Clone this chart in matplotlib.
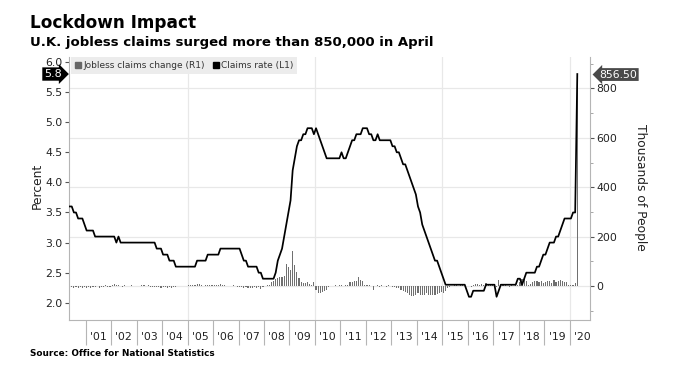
import numpy as np
import matplotlib
matplotlib.use('Agg')
import matplotlib.pyplot as plt
import matplotlib.transforms as mtransforms
from matplotlib.lines import Line2D
from matplotlib.ticker import MultipleLocator, FixedLocator, NullFormatter, FormatStrFormatter

## data, monthly from May 2000 to Apr 2020
# claimant count rate, percent (L1)
claims_rate = [
    3.6, 3.6, 3.5, 3.5, 3.4, 3.4, 3.4, 3.3,                          # 2000 May-Dec
    3.2, 3.2, 3.2, 3.2, 3.1, 3.1, 3.1, 3.1, 3.1, 3.1, 3.1, 3.1,      # 2001
    3.1, 3.1, 3.0, 3.1, 3.0, 3.0, 3.0, 3.0, 3.0, 3.0, 3.0, 3.0,      # 2002
    3.0, 3.0, 3.0, 3.0, 3.0, 3.0, 3.0, 3.0, 3.0, 2.9, 2.9, 2.9,      # 2003
    2.8, 2.8, 2.8, 2.7, 2.7, 2.7, 2.6, 2.6, 2.6, 2.6, 2.6, 2.6,      # 2004
    2.6, 2.6, 2.6, 2.6, 2.7, 2.7, 2.7, 2.7, 2.7, 2.8, 2.8, 2.8,      # 2005
    2.8, 2.8, 2.8, 2.9, 2.9, 2.9, 2.9, 2.9, 2.9, 2.9, 2.9, 2.9,      # 2006
    2.9, 2.8, 2.7, 2.7, 2.6, 2.6, 2.6, 2.6, 2.6, 2.5, 2.5, 2.4,      # 2007
    2.4, 2.4, 2.4, 2.4, 2.4, 2.5, 2.7, 2.8, 2.9, 3.1, 3.3, 3.5,      # 2008
    3.7, 4.2, 4.4, 4.6, 4.7, 4.7, 4.8, 4.8, 4.9, 4.9, 4.9, 4.8,      # 2009
    4.9, 4.8, 4.7, 4.6, 4.5, 4.4, 4.4, 4.4, 4.4, 4.4, 4.4, 4.4,      # 2010
    4.5, 4.4, 4.4, 4.5, 4.6, 4.7, 4.7, 4.8, 4.8, 4.8, 4.9, 4.9,      # 2011
    4.9, 4.8, 4.8, 4.7, 4.7, 4.8, 4.7, 4.7, 4.7, 4.7, 4.7, 4.7,      # 2012
    4.6, 4.6, 4.5, 4.5, 4.4, 4.3, 4.3, 4.2, 4.1, 4.0, 3.9, 3.8,      # 2013
    3.6, 3.5, 3.3, 3.2, 3.1, 3.0, 2.9, 2.8, 2.7, 2.7, 2.6, 2.5,      # 2014
    2.4, 2.3, 2.3, 2.3, 2.3, 2.3, 2.3, 2.3, 2.3, 2.3, 2.3, 2.2,      # 2015
    2.1, 2.1, 2.2, 2.2, 2.2, 2.2, 2.2, 2.2, 2.3, 2.3, 2.3, 2.3,      # 2016
    2.3, 2.1, 2.2, 2.3, 2.3, 2.3, 2.3, 2.3, 2.3, 2.3, 2.3, 2.4,      # 2017
    2.4, 2.3, 2.4, 2.5, 2.5, 2.5, 2.5, 2.5, 2.6, 2.6, 2.7, 2.8,      # 2018
    2.8, 2.9, 3.0, 3.0, 3.0, 3.1, 3.1, 3.2, 3.3, 3.4, 3.4, 3.4,      # 2019
    3.4, 3.5, 3.5, 5.8,                                              # 2020 Jan-Apr
]
# monthly change in jobless claims, thousands of people (R1)
claims_change = [
    -8, -6, -10, -5, -8, -6, -9, -4,                                 # 2000 May-Dec
    -7, -3, -9, -5, -6, -2, -8, -4, -6, 3, -5, -3,                   # 2001
    5, 8, 3, 6, 2, -3, 4, 2, -2, 3, 1, -2,                           # 2002
    2, -1, 3, 5, -2, 6, -3, -4, -5, -6, -4, -7,                      # 2003
    -5, -6, -7, -5, -8, -4, -3, 0, 2, -1, 1, 2,                      # 2004
    3, 5, 6, 4, 7, 8, 3, 2, 5, 6, 4, 3,                              # 2005
    5, 6, 3, 7, 5, 4, 2, 1, -2, 3, 0, -3,                            # 2006
    -4, -6, -8, -5, -7, -10, -8, -6, -9, -5, -12, -3,                # 2007
    2, 3, 5, 17, 22, 28, 32, 35, 38, 40, 88, 78,                     # 2008
    65, 143, 85, 58, 31, 16, 14, 12, 15, 10, 5, 15,                  # 2009
    -18, -28, -30, -25, -22, -15, -5, 2, 0, 3, -2, 3,                # 2010
    3, 2, 5, 5, 18, 15, 22, 20, 36, 25, 22, 3,                       # 2011
    3, 5, 2, -15, 2, 5, -3, 3, 2, -5, 3, -2,                         # 2012
    -5, -3, -10, -8, -15, -20, -25, -30, -38, -40, -42, -35,         # 2013
    -30, -35, -38, -35, -30, -35, -38, -35, -37, -32, -30, -25,      # 2014
    -30, -20, -10, -5, 0, 3, 5, 2, 3, 5, 2, 0,                       # 2015
    2, -5, 5, 8, 10, 5, 8, 3, 12, 5, 3, 5,                           # 2016
    2, -3, 25, 5, 3, 5, 2, -3, 3, 2, 5, 3,                           # 2017
    15, 28, 30, 20, 5, 8, 15, 20, 22, 18, 20, 12,                    # 2018
    15, 22, 20, 12, 25, 15, 22, 25, 20, 15, 18, 5,                   # 2019
    3, 5, 12, 856.5,                                                 # 2020 Jan-Apr
]
year_ticks = list(range(2001, 2021))
year_labels = ["'01", "'02", "'03", "'04", "'05", "'06", "'07", "'08", "'09", "'10",
               "'11", "'12", "'13", "'14", "'15", "'16", "'17", "'18", "'19", "'20"]
grid_years = [2005, 2010, 2015, 2020]
last_rate_label = '5.8'
last_change_label = '856.50'

# month positions (middle of each month) as decimal years
x = 2000 + 4 / 12 + np.arange(len(claims_rate)) / 12 + 1 / 24

W, H = 676, 379
fig = plt.figure(figsize=(W / 100, H / 100), dpi=100)
ax = fig.add_axes([69 / W, 1 - 320 / H, (590 - 69) / W, (320 - 57) / H])
ax2 = ax.twinx()
ax.set_zorder(ax2.get_zorder() + 1)
ax.patch.set_visible(False)

gray_spine = '#b5b5b5'
grid_col = '#e8e8e8'
txt_col = '#222222'

## bars (right axis)
ax2.bar(x, claims_change, width=0.045, color='#707070', zorder=2)
ax2.set_ylim(-137.7, 927.5)
ax2.yaxis.set_minor_locator(MultipleLocator(100))
ax2.set_yticks([0, 200, 400, 600, 800])
ax2.yaxis.grid(True, color=grid_col, lw=0.9, zorder=0)
for yr in grid_years:
    ax2.axvline(yr, color=grid_col, lw=0.9, zorder=0)
ax2.set_axisbelow(True)

## line (left axis)
ax.plot(x, claims_rate, color='black', lw=1.25, zorder=3)
ax.set_ylim(1.714, 6.083)
ax.set_xlim(2000.35, 2020.79)
ax.yaxis.set_major_locator(MultipleLocator(0.5))
ax.yaxis.set_major_formatter(FormatStrFormatter('%.1f'))

# x axis: long ticks at year starts, labels in between
ax.xaxis.set_major_locator(FixedLocator(year_ticks))
ax.xaxis.set_major_formatter(NullFormatter())
ax.xaxis.set_minor_locator(FixedLocator([y + 0.5 for y in year_ticks]))
ax.xaxis.set_minor_formatter(matplotlib.ticker.FixedFormatter(year_labels))
ax.tick_params(axis='x', which='major', length=18, width=0.8, color=gray_spine)
ax.tick_params(axis='x', which='minor', length=0, pad=9, labelsize=7.8, labelcolor=txt_col)
ax.tick_params(axis='y', which='major', length=3, width=0.8, color='#555555',
               labelsize=7.8, labelcolor=txt_col, pad=1.5)
ax2.tick_params(axis='y', which='major', length=3, width=0.8, color='#555555',
                labelsize=7.8, labelcolor=txt_col, pad=1.5)
ax2.tick_params(axis='y', which='minor', length=2, width=0.6, color='#999999')

for s in ['top', 'right']:
    ax.spines[s].set_visible(False)
for s in ['top', 'left', 'bottom']:
    ax2.spines[s].set_visible(False)
ax.spines['left'].set_color(gray_spine)
ax.spines['bottom'].set_color(gray_spine)
ax2.spines['right'].set_color(gray_spine)

## last value tags
trans_l = mtransforms.blended_transform_factory(ax.transAxes, ax.transData)
ax.text(-0.014, claims_rate[-1], last_rate_label, transform=trans_l, ha='right', va='center',
        color='white', fontsize=8, clip_on=False,
        bbox=dict(boxstyle='rarrow,pad=0.15', fc='black', ec='none'))
trans_r = mtransforms.blended_transform_factory(ax2.transAxes, ax2.transData)
ax2.text(1.018, claims_change[-1], last_change_label, transform=trans_r, ha='left', va='center',
         color='white', fontsize=7.8, clip_on=False,
         bbox=dict(boxstyle='larrow,pad=0.13', fc='#4a4a4a', ec='none'))

## legend
handles = [Line2D([], [], ls='none', marker='s', ms=4.5, color='#666666'),
           Line2D([], [], ls='none', marker='s', ms=4.5, color='black')]
leg = ax.legend(handles, ['Jobless claims change (R1)', 'Claims rate (L1)'],
                loc='upper left', bbox_to_anchor=(0.004, 1.0), ncol=2, frameon=True,
                fancybox=False, framealpha=1, facecolor='#ececec', edgecolor='none',
                fontsize=6.5, handlelength=0.6, handletextpad=0.3, columnspacing=0.9,
                borderpad=0.45, borderaxespad=0)
for t in leg.get_texts():
    t.set_color('#333333')

## titles and labels
fig.text(30 / W, 1 - 28 / H, 'Lockdown Impact', fontsize=12.2, fontweight='bold', va='baseline')
fig.text(30 / W, 1 - 45.7 / H, 'U.K. jobless claims surged more than 850,000 in April',
         fontsize=9.5, fontweight='bold', va='baseline')
fig.text(30 / W, 1 - 356 / H, 'Source: Office for National Statistics',
         fontsize=6.4, fontweight='bold', va='baseline')
fig.text(37 / W, 1 - 186 / H, 'Percent', fontsize=8.8, rotation=90, ha='center', va='center',
         color=txt_col)
fig.text(640 / W, 1 - 187 / H, 'Thousands of People', fontsize=8.8, rotation=270,
         ha='center', va='center', color=txt_col)

fig.savefig('out.png', dpi=100)
